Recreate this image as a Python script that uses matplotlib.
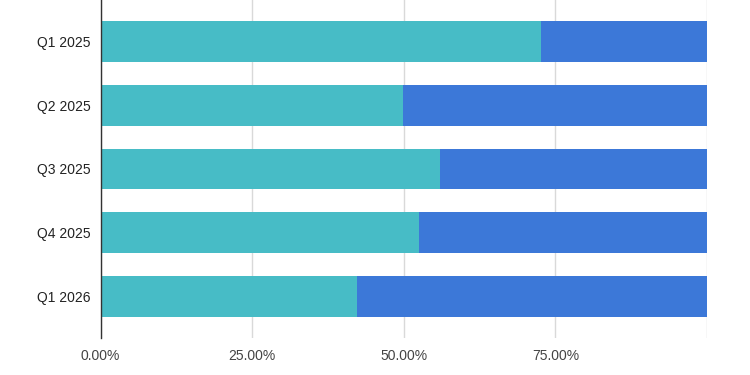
import matplotlib
matplotlib.use("Agg")
import matplotlib.pyplot as plt
import numpy as np

categories = ["Q1 2025", "Q2 2025", "Q3 2025", "Q4 2025", "Q1 2026"]
series_a = [72.6, 49.9, 56.0, 52.5, 42.3]
series_b = [100 - v for v in series_a]
xtick_labels = ["0.00%", "25.00%", "50.00%", "75.00%"]

plt.rcParams['font.family'] = ['Liberation Sans', 'DejaVu Sans']

fig = plt.figure(figsize=(7.5, 3.75), dpi=100)
ax = fig.add_axes([100.5/750, 1 - 338/375, (707 - 100.5)/750, 338/375])

y = np.arange(len(categories))
ax.barh(y, series_a, height=0.64, color="#47BCC6", zorder=3)
ax.barh(y, series_b, left=series_a, height=0.64, color="#3C78D8", zorder=3)

ax.set_xlim(0, 100)
ax.set_ylim(len(categories) - 0.35, -0.65)
ax.set_yticks(y)
ax.set_yticklabels(categories, fontsize=10, color="#222222")
ax.set_xticks([0, 25, 50, 75, 100])
ax.set_xticklabels(xtick_labels + [""], fontsize=10, color="#444444")
ax.tick_params(axis="both", length=0)
ax.tick_params(axis="x", pad=8)
ax.tick_params(axis="y", pad=7)
ax.grid(axis="x", color="#D9D9D9", linewidth=1, zorder=0)
for s in ["top", "right", "bottom"]:
    ax.spines[s].set_visible(False)
ax.spines["left"].set_color("#333333")
ax.spines["left"].set_linewidth(1)
ax.spines["left"].set_zorder(4)

fig.savefig("out.png", dpi=100)
